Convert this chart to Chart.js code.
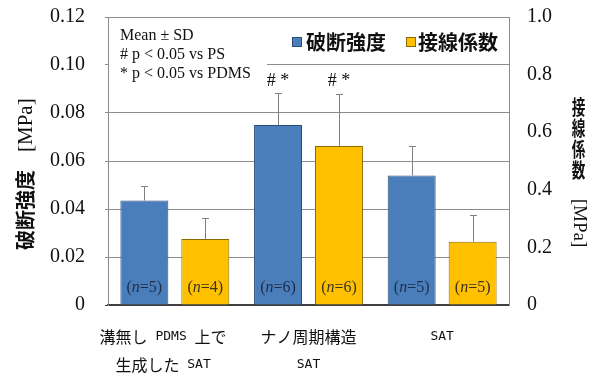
<!DOCTYPE html>
<html>
<head>
<meta charset="utf-8">
<script src="https://cdn.jsdelivr.net/npm/chart.js@4"></script>
<style>
  html, body { margin: 0; padding: 0; background: #fff; }
  #wrap { width: 604px; height: 374px; }
</style>
</head>
<body>
<div id="wrap"><canvas id="c" width="604" height="374"></canvas></div>
<script>
// Groups (two-line category labels)
const groups = [
  ['溝無し PDMS 上で   ', '生成した SAT   '],
  ['ナノ周期構造', 'SAT'],
  ['SAT']
];

// 破断強度 [MPa] (left axis)
const strengthMean = [0.0435, 0.075, 0.054];
const strengthSD   = [0.0061, 0.0135, 0.0124];
const strengthN    = [5, 6, 5];

// 接線係数 [MPa] (right axis)
const modulusMean = [0.229, 0.552, 0.22];
const modulusSD   = [0.072, 0.181, 0.093];
const modulusN    = [4, 6, 5];

// significance marks per group (same for both series)
const sigMarks = ['', '# *', ''];

// axis ranges / steps
const strengthAxis = { min: 0, max: 0.12, step: 0.02 };
const modulusAxis  = { min: 0, max: 1.0, step: 0.2 };

const seriesNames = ['破断強度', '接線係数'];
const leftTitle  = ['破断強度', '[MPa]'];
const rightTitle = ['接線係数', '[MPa]'];
const notes = ['Mean ± SD', '# p < 0.05 vs PS', '* p < 0.05 vs PDMS'];

const SERIF = '"Liberation Serif", "Times New Roman", serif';
const CJK   = '"Noto Sans CJK JP", "Noto Sans CJK SC", sans-serif';
const MONO  = '"DejaVu Sans Mono", monospace';

const BLUE = '#4a7ebb', BLUE_EDGE = '#2c4d78';
const GOLD = '#ffc000', GOLD_EDGE = '#8a6a00';
const GRID = '#8c8c8c';

function drawMixed(ctx, text, cx, cy) {
  const runs = [];
  for (const ch of text) {
    const cjk = /[\u3000-\u9fff\uff00-\uffef]/.test(ch);
    const last = runs[runs.length - 1];
    if (last && last.cjk === cjk) last.t += ch; else runs.push({ t: ch, cjk });
  }
  const fontFor = r => r.cjk ? `16px ${CJK}` : `13px ${MONO}`;
  let w = 0;
  runs.forEach(r => { ctx.font = fontFor(r); r.w = ctx.measureText(r.t).width; w += r.w; });
  let x = cx - w / 2;
  ctx.textAlign = 'left';
  ctx.textBaseline = 'middle';
  runs.forEach(r => { ctx.font = fontFor(r); ctx.fillText(r.t, x, cy); x += r.w; });
}

const overlay = {
  id: 'overlay',
  beforeDatasetsDraw(chart) {
    // white note panel in the upper-left corner of the plot
    const { ctx, chartArea: a, scales } = chart;
    const y10 = scales.y.getPixelForValue(0.10);
    ctx.save();
    ctx.fillStyle = '#fff';
    ctx.fillRect(a.left + 1, a.top + 1, 158, y10 - a.top + 1.5);
    ctx.restore();
  },
  afterDatasetsDraw(chart) {
    const { ctx, chartArea: a } = chart;
    const sets = [
      { mean: strengthMean, sd: strengthSD, n: strengthN, scale: chart.scales.y, ncol: '#1e2c48' },
      { mean: modulusMean, sd: modulusSD, n: modulusN, scale: chart.scales.y1, ncol: '#3a3320' }
    ];
    ctx.save();
    sets.forEach((s, di) => {
      const meta = chart.getDatasetMeta(di);
      meta.data.forEach((bar, i) => {
        const x = Math.round(bar.x) + 0.5;
        const yTop = s.scale.getPixelForValue(s.mean[i]);
        const yErr = Math.round(s.scale.getPixelForValue(s.mean[i] + s.sd[i])) + 0.5;
        // error bar (upper half)
        ctx.strokeStyle = '#808080';
        ctx.lineWidth = 1;
        ctx.beginPath();
        ctx.moveTo(x, yTop);
        ctx.lineTo(x, yErr);
        ctx.moveTo(x - 3.5, yErr);
        ctx.lineTo(x + 3.5, yErr);
        ctx.stroke();
        // (n=…) label
        const y = a.bottom - 17;
        const parts = [
          { t: '(', f: `16px ${SERIF}` },
          { t: 'n', f: `italic 16px ${SERIF}` },
          { t: '=' + s.n[i] + ')', f: `16px ${SERIF}` }
        ];
        let w = 0;
        parts.forEach(p => { ctx.font = p.f; p.w = ctx.measureText(p.t).width; w += p.w; });
        let tx = bar.x - w / 2;
        ctx.fillStyle = s.ncol;
        ctx.textAlign = 'left';
        ctx.textBaseline = 'middle';
        parts.forEach(p => { ctx.font = p.f; ctx.fillText(p.t, tx, y); tx += p.w; });
        // significance mark
        if (sigMarks[i]) {
          ctx.fillStyle = '#111';
          ctx.font = `18px ${SERIF}`;
          ctx.textAlign = 'center';
          ctx.fillText(sigMarks[i], bar.x, 81);
        }
      });
    });
    ctx.restore();
  },
  afterDraw(chart) {
    const { ctx, chartArea: a, scales } = chart;
    ctx.save();
    ctx.fillStyle = '#111';
    // notes
    ctx.font = `16px ${SERIF}`;
    ctx.textAlign = 'left';
    ctx.textBaseline = 'middle';
    notes.forEach((t, k) => ctx.fillText(t, 120, 36 + k * 19));

    // legend
    const items = [
      { sq: 292, tx: 306, fill: BLUE, edge: BLUE_EDGE, name: seriesNames[0] },
      { sq: 406, tx: 418, fill: GOLD, edge: GOLD_EDGE, name: seriesNames[1] }
    ];
    items.forEach(it => {
      ctx.fillStyle = it.fill;
      ctx.fillRect(it.sq, 37, 10, 10);
      ctx.strokeStyle = it.edge;
      ctx.lineWidth = 1;
      ctx.strokeRect(it.sq + 0.5, 37.5, 9, 9);
      ctx.fillStyle = '#111';
      ctx.font = `bold 20px ${CJK}`;
      ctx.textBaseline = 'middle';
      ctx.fillText(it.name, it.tx, 42);
    });

    // left axis title (rotated)
    ctx.save();
    ctx.translate(25, 250);
    ctx.rotate(-Math.PI / 2);
    ctx.textAlign = 'left';
    ctx.textBaseline = 'middle';
    ctx.font = `bold 20px ${CJK}`;
    ctx.fillText(leftTitle[0], 0, 0);
    ctx.font = `21px ${SERIF}`;
    ctx.fillText(leftTitle[1], 98, 1);
    ctx.restore();

    // right axis title (vertical, upright characters)
    const chars = [...rightTitle[0]];
    chars.forEach((ch, k) => {
      ctx.save();
      ctx.translate(578.5, 107 + k * 21);
      ctx.scale(0.68, 1);
      ctx.font = `bold 20px ${CJK}`;
      ctx.textAlign = 'center';
      ctx.textBaseline = 'middle';
      ctx.fillText(ch, 0, 0);
      ctx.restore();
    });
    ctx.save();
    ctx.translate(579, 223);
    ctx.rotate(Math.PI / 2);
    ctx.font = `19px ${SERIF}`;
    ctx.textAlign = 'center';
    ctx.textBaseline = 'middle';
    ctx.fillText(rightTitle[1], 0, 0);
    ctx.restore();

    // category labels
    ctx.fillStyle = '#111';
    groups.forEach((lines, i) => {
      const cx = scales.x.getPixelForValue(i);
      lines.forEach((ln, k) => drawMixed(ctx, ln, cx, a.bottom + 32 + k * 28));
    });
    ctx.restore();
  }
};

// vertical axes: no extra space above/below for end labels
function fitVertical(width) {
  return s => {
    s.width = width;
    s.paddingTop = 0;
    s.paddingBottom = 0;
  };
}

new Chart(document.getElementById('c'), {
  type: 'bar',
  data: {
    labels: groups.map(g => g.join('')),
    datasets: [
      {
        label: seriesNames[0], data: strengthMean, yAxisID: 'y',
        backgroundColor: BLUE, borderColor: BLUE_EDGE, borderWidth: 1,
        categoryPercentage: 0.912, barPercentage: 0.787
      },
      {
        label: seriesNames[1], data: modulusMean, yAxisID: 'y1',
        backgroundColor: GOLD, borderColor: GOLD_EDGE, borderWidth: 1,
        categoryPercentage: 0.912, barPercentage: 0.787
      }
    ]
  },
  options: {
    responsive: false,
    animation: false,
    layout: { padding: { top: 17, left: 0, right: 0, bottom: 0 } },
    plugins: { legend: { display: false }, tooltip: { enabled: false } },
    scales: {
      x: {
        grid: { display: false },
        ticks: { display: false },
        border: { display: true, color: '#404040', width: 1.5 },
        afterFit(s) { s.height = 69; }
      },
      y: {
        position: 'left',
        min: strengthAxis.min, max: strengthAxis.max,
        ticks: {
          stepSize: strengthAxis.step,
          padding: 20,
          color: '#111',
          font: { family: SERIF, size: 20 },
          callback: v => (v === 0 ? '0' : v.toFixed(2))
        },
        grid: {
          color: c => (c.tick && c.tick.value === 0 ? '#404040' : GRID),
          tickLength: 3
        },
        border: { color: GRID },
        afterFit: fitVertical(108)
      },
      y1: {
        position: 'right',
        min: modulusAxis.min, max: modulusAxis.max,
        ticks: {
          stepSize: modulusAxis.step,
          padding: 18,
          color: '#111',
          font: { family: SERIF, size: 20 },
          callback: v => (v === 0 ? '0' : v.toFixed(1))
        },
        grid: { drawOnChartArea: false, drawTicks: false },
        border: { color: GRID },
        afterFit: fitVertical(95)
      }
    }
  },
  plugins: [overlay]
});
</script>
</body>
</html>
